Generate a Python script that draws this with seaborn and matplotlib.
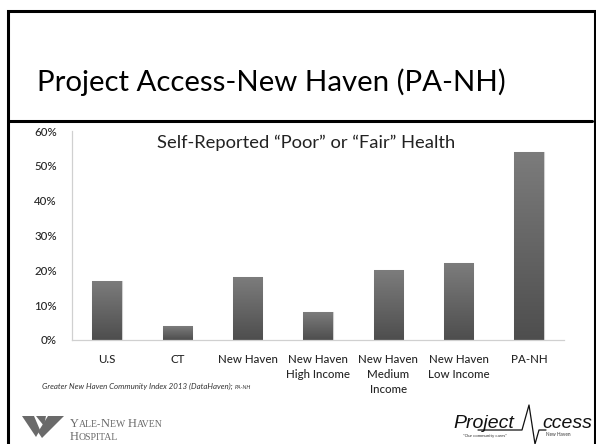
import matplotlib
matplotlib.use("Agg")
import matplotlib.pyplot as plt
import numpy as np
import pandas as pd
import seaborn as sns
from matplotlib.colors import LinearSegmentedColormap
from matplotlib.patches import Rectangle, Polygon
from matplotlib.lines import Line2D

# Data
categories = ["U.S", "CT", "New Haven", "New Haven\nHigh Income",
              "New Haven\nMedium\nIncome", "New Haven\nLow Income", "PA-NH"]
values = [0.17, 0.04, 0.18, 0.08, 0.20, 0.22, 0.54]
yticks = [0.0, 0.1, 0.2, 0.3, 0.4, 0.5, 0.6]
ytick_labels = ["0%", "10%", "20%", "30%", "40%", "50%", "60%"]

df = pd.DataFrame({"place": categories, "pct": values})

sns.set_theme(style="white")
plt.rcParams["font.family"] = ["Lato", "DejaVu Sans"]

W, H = 596, 444
fig = plt.figure(figsize=(W / 100, H / 100), dpi=100)
fig.patch.set_facecolor("white")


def fx(x):
    return x / W


def fy(y):
    return 1 - y / H


def seq_text(x, y, parts, **kw):
    # draw text pieces one after another on a shared baseline (small caps look)
    renderer = fig.canvas.get_renderer()
    for s, size in parts:
        t = fig.text(fx(x), fy(y), s, fontsize=size, va="baseline", ha="left", **kw)
        x = t.get_window_extent(renderer).x1


# Slide frame and title
fig.patches.append(Rectangle((fx(8), fy(450)), 587 / W, (450 - 11) / H,
                             transform=fig.transFigure, fill=False, lw=2.2, ec="black"))
fig.lines.append(Line2D([fx(8), fx(592)], [fy(121), fy(121)], transform=fig.transFigure,
                        color="black", lw=2.2))
fig.text(fx(37), fy(82), "Project Access-New Haven (PA-NH)", fontsize=21.2,
         va="center", ha="left", color="black")

# Chart
ax = fig.add_axes([fx(72), fy(340), fx(564) - fx(72), fy(131) - fy(340)])
sns.barplot(data=df, x="place", y="pct", color="#666666", width=0.42,
            edgecolor="#d0d0d0", linewidth=0.8, ax=ax)

# gradient fill on each bar
cmap = LinearSegmentedColormap.from_list("bar", ["#4e4e4e", "#7c7c7c"])
grad = np.linspace(0, 1, 100).reshape(-1, 1)
for p in ax.patches:
    x0, w, h = p.get_x(), p.get_width(), p.get_height()
    im = ax.imshow(grad, extent=[x0, x0 + w, 0, h], origin="lower", aspect="auto",
                   cmap=cmap, zorder=p.get_zorder() + 0.1)
    im.set_clip_path(p)

n = len(categories)
ax.set_xlim(-0.5, n - 0.5)
ax.set_ylim(0, 0.6)
ax.set_yticks(yticks)
ax.set_yticklabels(ytick_labels)
ax.set_xticks(range(n))
ax.set_xticklabels(categories, fontsize=8.3, color="#262626", linespacing=1.45,
                   va="top", fontweight="medium")
ax.set_xticks(np.arange(-0.5, n, 1), minor=True)
ax.tick_params(axis="x", which="major", length=0, pad=10)
ax.tick_params(axis="x", which="minor", length=4, color="#d0d0d0", width=0.8, direction="out")
ax.tick_params(axis="y", length=4, color="#d0d0d0", width=0.8, direction="out",
               labelsize=8.3, labelcolor="#262626", pad=7)
for lbl in ax.get_yticklabels():
    lbl.set_fontweight("medium")
ax.set_xlabel("")
ax.set_ylabel("")
for side in ["top", "right"]:
    ax.spines[side].set_visible(False)
for side in ["left", "bottom"]:
    ax.spines[side].set_color("#d0d0d0")
    ax.spines[side].set_linewidth(0.9)

ax.text(0.475, 0.945, "Self-Reported \u201cPoor\u201d or \u201cFair\u201d Health",
        transform=ax.transAxes, ha="center", va="center", fontsize=13.2, color="#222222")

# Footnote
seq_text(42, 389, [("Greater New Haven Community Index 2013 (DataHaven); ", 5.7),
                   ("PA-NH", 4.0)], style="italic", color="#333333")

# Yale-New Haven Hospital logo (approximate)
fig.patches.append(Polygon([[fx(22), fy(416)], [fx(34), fy(416)], [fx(40), fy(430)], [fx(36), fy(437)]],
                           transform=fig.transFigure, color="#6a6a6a", lw=0))
fig.patches.append(Polygon([[fx(36), fy(416)], [fx(46), fy(416)], [fx(44), fy(426)]],
                           transform=fig.transFigure, color="#6a6a6a", lw=0))
fig.patches.append(Polygon([[fx(48), fy(416)], [fx(64), fy(416)], [fx(42), fy(438)], [fx(38), fy(432)]],
                           transform=fig.transFigure, color="#6a6a6a", lw=0))
seq_text(70, 427, [("Y", 9), ("ALE-", 7), ("N", 9), ("EW ", 7), ("H", 9), ("AVEN", 7)],
         color="#6a6a6a", family=["Liberation Serif", "DejaVu Serif"])
seq_text(70, 440, [("H", 9), ("OSPITAL", 7)],
         color="#6a6a6a", family=["Liberation Serif", "DejaVu Serif"])

# Project Access logo (approximate)
fig.text(fx(453), fy(428), "Project", fontsize=14, style="italic", color="#111111",
         va="baseline", ha="left", family=["Liberation Sans", "DejaVu Sans"])
fig.text(fx(542), fy(428), "ccess", fontsize=14, style="italic", color="#111111",
         va="baseline", ha="left", family=["Liberation Sans", "DejaVu Sans"])
fig.lines.append(Line2D([fx(478), fx(522), fx(529), fx(535), fx(539), fx(546)],
                        [fy(430), fy(430), fy(405), fy(444), fy(430), fy(430)],
                        transform=fig.transFigure, color="#111111", lw=0.9))
fig.text(fx(463), fy(436), "\u201cOur community cares\u201d", fontsize=3.2, color="#333333",
         va="center", ha="left")
fig.text(fx(546), fy(434), "New Haven", fontsize=3.4, color="#333333", va="center", ha="left")

fig.savefig("out.png", dpi=100, facecolor="white")
